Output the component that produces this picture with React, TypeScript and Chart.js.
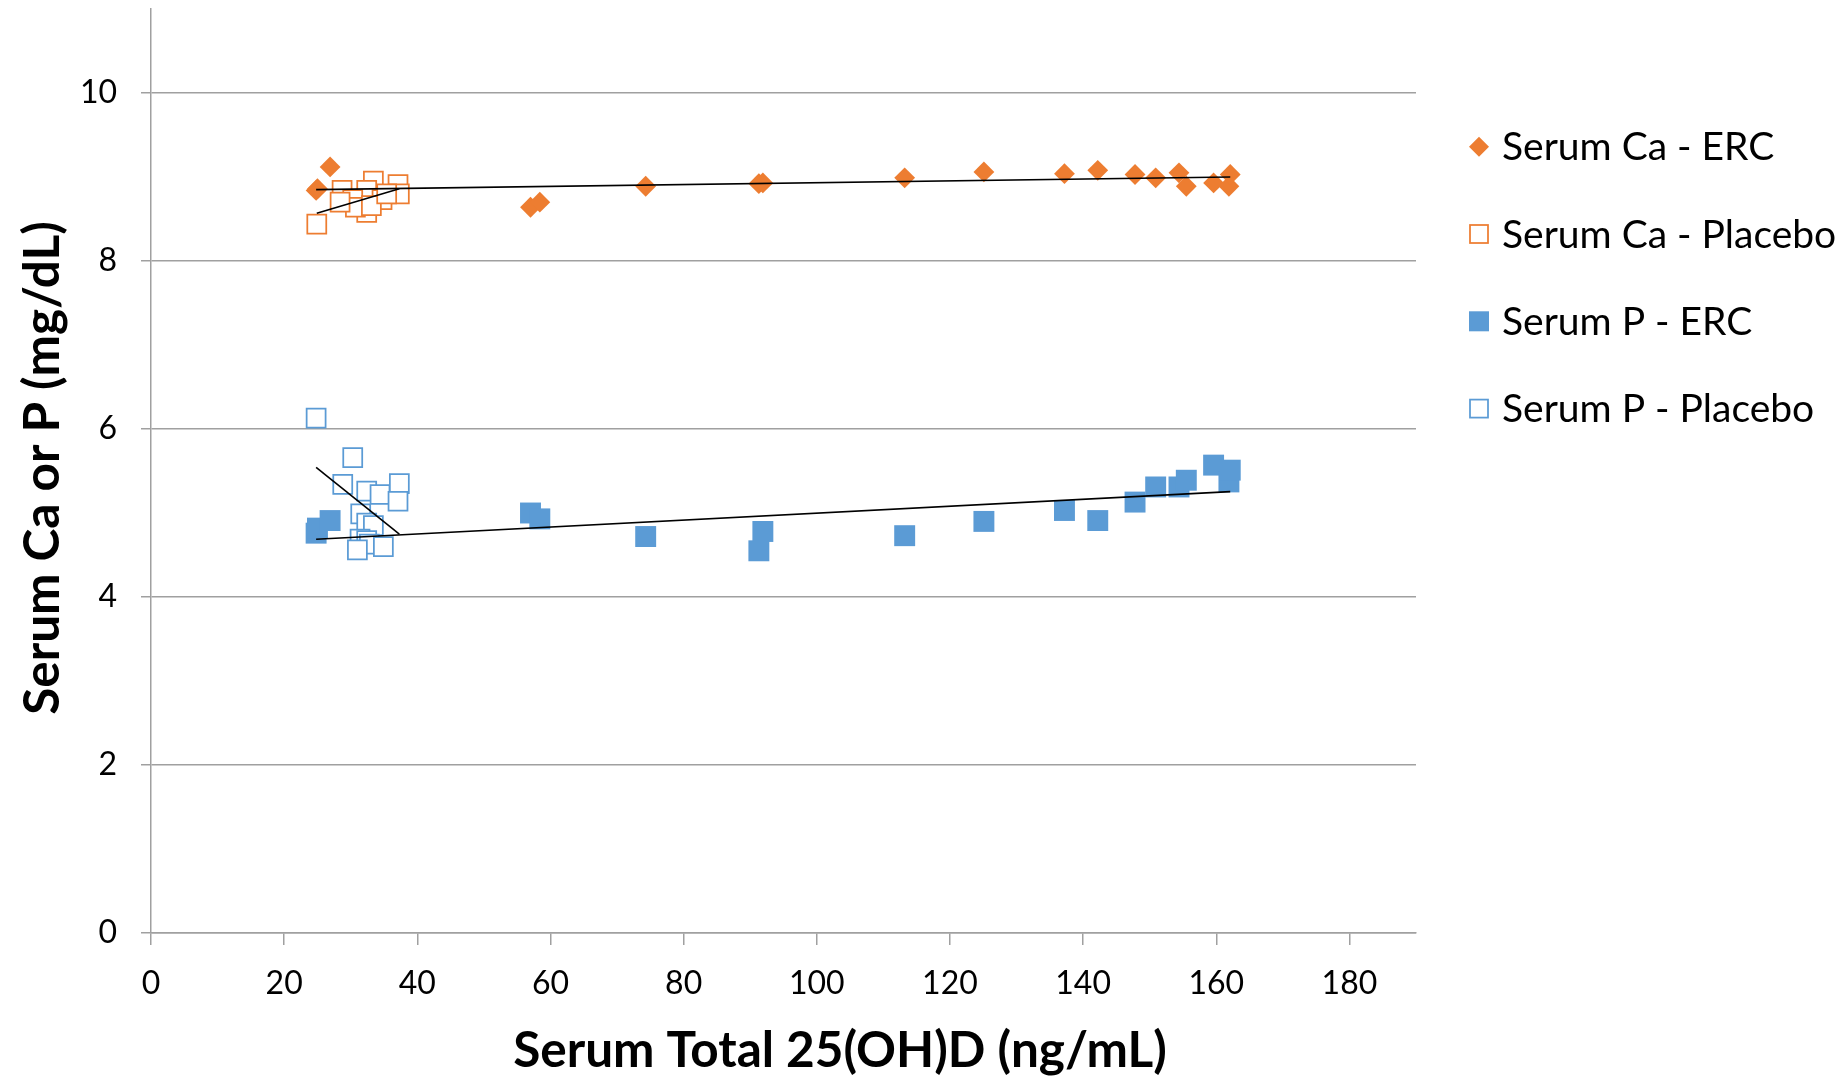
import React, { useEffect, useRef } from 'react';
import { Chart, registerables } from 'chart.js';

Chart.register(...registerables);

// ---------- data ----------
const seriesNames = ['Serum Ca - ERC', 'Serum Ca - Placebo', 'Serum P - ERC', 'Serum P - Placebo'];
const xTitle = 'Serum Total 25(OH)D (ng/mL)';
const yTitle = 'Serum Ca or P (mg/dL)';

const xTicks = [0, 20, 40, 60, 80, 100, 120, 140, 160, 180];
const yTicks = [0, 2, 4, 6, 8, 10];

// ERC group: serum 25(OH)D
const ercD = [24.8, 25.0, 26.9, 57.0, 58.4, 74.3, 91.3, 91.9, 113.2, 125.1, 137.2, 142.2, 147.8, 150.9, 154.4, 155.5, 159.6, 161.9, 162.1];
const ercCa = [8.84, 8.86, 9.12, 8.64, 8.70, 8.89, 8.92, 8.93, 8.99, 9.06, 9.04, 9.08, 9.03, 8.99, 9.05, 8.89, 8.93, 8.89, 9.03];
const ercP = [4.76, 4.82, 4.91, 5.00, 4.93, 4.72, 4.55, 4.78, 4.73, 4.90, 5.03, 4.91, 5.13, 5.31, 5.31, 5.39, 5.57, 5.37, 5.51];

// Placebo group
const placeboCaD = [24.9, 28.7, 33.4, 32.4, 30.3, 37.1, 37.3, 34.7, 32.4, 30.7, 33.1, 28.4, 35.4];
const placeboCa = [8.44, 8.84, 8.95, 8.84, 8.73, 8.91, 8.80, 8.73, 8.58, 8.64, 8.66, 8.70, 8.80];
const placeboPD = [24.8, 30.3, 28.8, 32.4, 34.4, 37.3, 37.1, 31.5, 32.4, 33.4, 31.4, 32.4, 32.8, 34.9, 31.0];
const placeboP = [6.13, 5.66, 5.34, 5.26, 5.22, 5.35, 5.14, 4.99, 4.88, 4.85, 4.69, 4.67, 4.63, 4.60, 4.56];

// ---------- styles ----------
const ORANGE = '#ED7D31';
const BLUE = '#5B9BD5';
const GRID = '#a0a0a0';
const FONT = 'Lato, "Noto Sans", sans-serif';

function pts(xs: number[], ys: number[]) {
  return xs.map((x, i) => ({ x, y: ys[i] }));
}

// Linear least-squares trendline over the series' x range
function trend(xs: number[], ys: number[]) {
  const n = xs.length;
  const mx = xs.reduce((a, b) => a + b, 0) / n;
  const my = ys.reduce((a, b) => a + b, 0) / n;
  let sxy = 0;
  let sxx = 0;
  for (let i = 0; i < n; i++) {
    sxy += (xs[i] - mx) * (ys[i] - my);
    sxx += (xs[i] - mx) * (xs[i] - mx);
  }
  const b = sxy / sxx;
  const a = my - b * mx;
  const lo = Math.min(...xs);
  const hi = Math.max(...xs);
  return [
    { x: lo, y: a + b * lo },
    { x: hi, y: a + b * hi },
  ];
}

const overlayPlugin = {
  id: 'overlay',
  afterDraw(chart: any) {
    const ctx = chart.ctx as CanvasRenderingContext2D;
    const area = chart.chartArea;
    ctx.save();
    ctx.fillStyle = '#000';

    // axis titles
    ctx.font = `bold 49.5px ${FONT}`;
    ctx.textAlign = 'center';
    ctx.textBaseline = 'alphabetic';
    ctx.fillText(xTitle, 840, 1067);

    ctx.save();
    ctx.translate(59, (area.top + area.bottom) / 2 - 3);
    ctx.rotate(-Math.PI / 2);
    ctx.fillText(yTitle, 0, 0);
    ctx.restore();

    // legend
    const mx = 1479;
    const y0 = 146.7;
    const dy = 87.3;
    ctx.textAlign = 'left';
    ctx.font = `39px ${FONT}`;
    seriesNames.forEach((name, i) => {
      const cy = y0 + i * dy;
      ctx.lineWidth = 1.75;
      if (i === 0) {
        ctx.fillStyle = ORANGE;
        ctx.beginPath();
        ctx.moveTo(mx - 10, cy);
        ctx.lineTo(mx, cy - 10);
        ctx.lineTo(mx + 10, cy);
        ctx.lineTo(mx, cy + 10);
        ctx.closePath();
        ctx.fill();
      } else if (i === 2) {
        ctx.fillStyle = BLUE;
        ctx.fillRect(mx - 10, cy - 10, 20, 20);
      } else {
        ctx.strokeStyle = i === 1 ? ORANGE : BLUE;
        ctx.fillStyle = '#fff';
        ctx.fillRect(mx - 9, cy - 9, 18, 18);
        ctx.strokeRect(mx - 9, cy - 9, 18, 18);
      }
      ctx.fillStyle = '#000';
      ctx.fillText(name, 1502, cy + 13.5);
    });
    ctx.restore();
  },
};

export default function App() {
  const ref = useRef<HTMLCanvasElement | null>(null);

  useEffect(() => {
    if (!ref.current) return;
    const trendStyle = {
      type: 'scatter' as const,
      showLine: true,
      borderColor: '#000',
      borderWidth: 1.6,
      pointRadius: 0,
      fill: false,
      order: 0,
    };
    const chart = new Chart(ref.current, {
      type: 'scatter',
      data: {
        datasets: [
          { ...trendStyle, label: 'trend Ca ERC', data: trend(ercD, ercCa) },
          { ...trendStyle, label: 'trend Ca Placebo', data: trend(placeboCaD, placeboCa) },
          { ...trendStyle, label: 'trend P ERC', data: trend(ercD, ercP) },
          { ...trendStyle, label: 'trend P Placebo', data: trend(placeboPD, placeboP) },
          {
            label: seriesNames[3],
            data: pts(placeboPD, placeboP),
            pointStyle: 'rect',
            pointRadius: 13.4,
            backgroundColor: '#ffffff',
            borderColor: BLUE,
            borderWidth: 1.75,
            order: 1,
          },
          {
            label: seriesNames[2],
            data: pts(ercD, ercP),
            pointStyle: 'rect',
            pointRadius: 14.8,
            backgroundColor: BLUE,
            borderWidth: 0,
            order: 2,
          },
          {
            label: seriesNames[1],
            data: pts(placeboCaD, placeboCa),
            pointStyle: 'rect',
            pointRadius: 13.4,
            backgroundColor: '#ffffff',
            borderColor: ORANGE,
            borderWidth: 1.75,
            order: 3,
          },
          {
            label: seriesNames[0],
            data: pts(ercD, ercCa),
            pointStyle: 'rectRot',
            pointRadius: 10.4,
            backgroundColor: ORANGE,
            borderWidth: 0,
            order: 4,
          },
        ] as any,
      },
      options: {
        animation: false,
        responsive: false,
        events: [],
        layout: { autoPadding: false, padding: { left: 0, right: 429, top: 9, bottom: 0 } },
        plugins: { legend: { display: false }, tooltip: { enabled: false } },
        scales: {
          x: {
            type: 'linear',
            min: 0,
            max: 190,
            afterBuildTicks: (s: any) => {
              s.ticks = xTicks.map((v) => ({ value: v }));
            },
            afterFit: (s: any) => {
              s.height = 144;
              s.paddingLeft = 0;
              s.paddingRight = 0;
              s.paddingTop = 0;
              s.paddingBottom = 0;
            },
            ticks: {
              font: { family: FONT, size: 32 },
              color: '#000',
              padding: 19,
              maxRotation: 0,
              autoSkip: false,
            },
            grid: { drawOnChartArea: false, drawTicks: true, tickLength: 12, color: GRID, lineWidth: 1.5 },
            border: { display: true, color: GRID, width: 1.5 },
          },
          y: {
            type: 'linear',
            min: 0,
            max: 11,
            afterBuildTicks: (s: any) => {
              s.ticks = yTicks.map((v) => ({ value: v }));
            },
            afterFit: (s: any) => {
              s.width = 151;
              s.paddingLeft = 0;
              s.paddingRight = 0;
              s.paddingTop = 0;
              s.paddingBottom = 0;
            },
            ticks: {
              font: { family: FONT, size: 32 },
              color: '#000',
              padding: 24,
            },
            grid: { drawTicks: true, tickLength: 10, color: GRID, lineWidth: 1.5 },
            border: { display: true, color: GRID, width: 1.5 },
          },
        },
      } as any,
      plugins: [overlayPlugin],
    });
    return () => chart.destroy();
  }, []);

  return (
    <div style={{ position: 'fixed', left: 0, top: 0, width: 1845, height: 1077, background: '#fff' }}>
      <canvas ref={ref} width={1845} height={1077} style={{ display: 'block' }} />
    </div>
  );
}
